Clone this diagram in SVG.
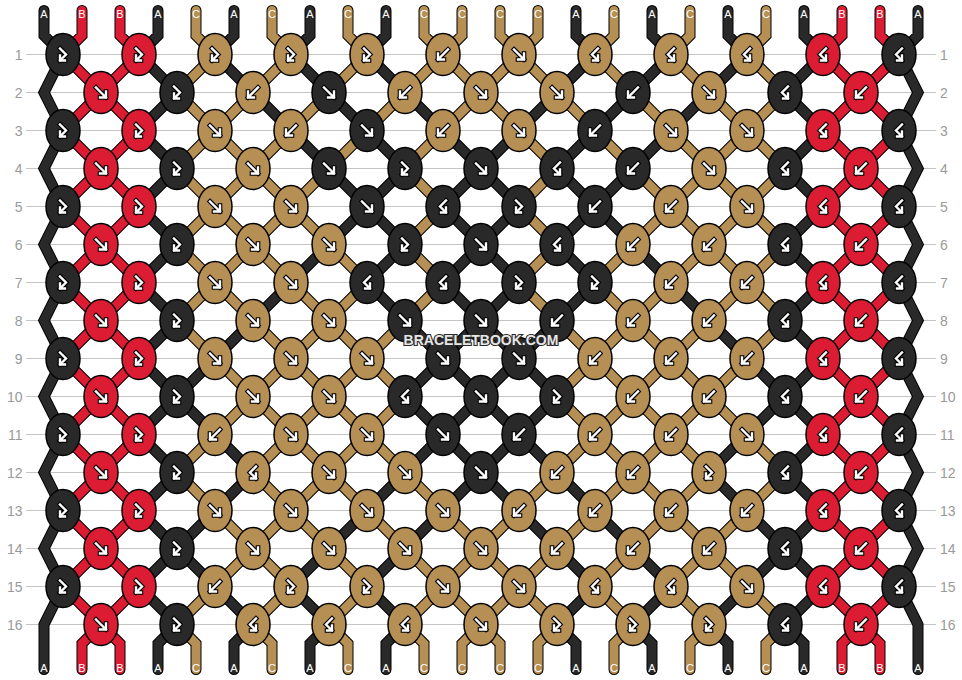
<svg xmlns="http://www.w3.org/2000/svg" xmlns:xlink="http://www.w3.org/1999/xlink" width="962" height="680" viewBox="0 0 962 680">
<style>
.A{fill:#292929}.B{fill:#dc1c33}.C{fill:#b58f53}
ellipse{stroke:#000;stroke-width:1.5}
.io{fill:none;stroke:#000;stroke-width:4.6;stroke-linecap:square;stroke-linejoin:miter}
.ii{fill:none;stroke:#fff;stroke-width:2.4;stroke-linecap:square;stroke-linejoin:miter}
.o{fill:none;stroke:#000;stroke-width:11;stroke-linecap:round;stroke-linejoin:miter}
.sA,.sB,.sC{fill:none;stroke-width:9;stroke-linecap:round;stroke-linejoin:miter}
.sA{stroke:#292929}.sB{stroke:#dc1c33}.sC{stroke:#b58f53}
.grid{stroke:#c4c4c4;stroke-width:1.2;fill:none}
.rl{font-family:"Liberation Sans",Arial,sans-serif;font-size:14px;fill:#9a9a9a}
.lb{font-family:"Liberation Sans",Arial,sans-serif;font-size:11px;fill:#fff;text-anchor:middle}
.wm{font-family:"Liberation Sans",Arial,sans-serif;font-size:14px;font-weight:bold;fill:#e6e6e6;stroke:#2a2a2a;stroke-width:2.2;paint-order:stroke;text-anchor:middle}
</style>
<defs>
<g id="f"><path class="io" d="M-5 -5L5 5M5 -1V5H-1"/><path class="ii" d="M-5 -5L5 5M5 -1V5H-1"/></g>
<g id="b"><path class="io" d="M5 -5L-5 5M-5 -1V5H1"/><path class="ii" d="M5 -5L-5 5M-5 -1V5H1"/></g>
<g id="fb"><path class="io" d="M-3 -6L3 0L-3 6M-3 1V6H2"/><path class="ii" d="M-3 -6L3 0L-3 6M-3 1V6H2"/></g>
<g id="bf"><path class="io" d="M3 -6L-3 0L3 6M3 1V6H-2"/><path class="ii" d="M3 -6L-3 0L3 6M3 1V6H-2"/></g>
<path id="dA" d="M44 10.5V35.5L63 54.5L44 92.5L63 130.5L44 168.5L63 206.5L44 244.5L63 282.5L44 320.5L63 358.5L44 396.5L63 434.5L44 472.5L63 510.5L44 548.5L63 586.5L44 624.5V669.5M918 10.5V35.5L899 54.5L918 92.5L899 130.5L918 168.5L899 206.5L918 244.5L899 282.5L918 320.5L899 358.5L918 396.5L899 434.5L918 472.5L899 510.5L918 548.5L899 586.5L918 624.5V669.5
M158 10.5v25l-19 19M234 10.5v25l-19 19M310 10.5v25l-19 19M386 10.5v25l-19 19M576 10.5v25l19 19M652 10.5v25l19 19M728 10.5v25l19 19M804 10.5v25l19 19
M595 54.5l-38 38M671 54.5l-38 38M747 54.5l-38 38M823 54.5l-38 38M139 54.5l38 38M215 54.5l38 38M291 54.5l38 38M367 54.5l38 38
M177 92.5l-38 38M557 92.5l-38 38M633 92.5l-38 38M709 92.5l-38 38M253 92.5l38 38M329 92.5l38 38M405 92.5l38 38M785 92.5l38 38
M519 130.5l-38 38M595 130.5l-38 38M671 130.5l-38 38M823 130.5l-38 38M139 130.5l38 38M291 130.5l38 38M367 130.5l38 38M443 130.5l38 38
M177 168.5l-38 38M405 168.5l-38 38M481 168.5l-38 38M633 168.5l-38 38M329 168.5l38 38M481 168.5l38 38M557 168.5l38 38M785 168.5l38 38
M367 206.5l-38 38M519 206.5l-38 38M595 206.5l-38 38M823 206.5l-38 38M139 206.5l38 38M367 206.5l38 38M443 206.5l38 38M595 206.5l38 38
M177 244.5l-38 38M329 244.5l-38 38M405 244.5l-38 38M481 244.5l-38 38M481 244.5l38 38M557 244.5l38 38M633 244.5l38 38M785 244.5l38 38
M291 282.5l-38 38M519 282.5l-38 38M595 282.5l-38 38M823 282.5l-38 38M139 282.5l38 38M367 282.5l38 38M443 282.5l38 38M671 282.5l38 38
M177 320.5l-38 38M253 320.5l-38 38M481 320.5l-38 38M557 320.5l-38 38M405 320.5l38 38M481 320.5l38 38M709 320.5l38 38M785 320.5l38 38
M215 358.5l-38 38M443 358.5l-38 38M519 358.5l-38 38M823 358.5l-38 38M139 358.5l38 38M443 358.5l38 38M519 358.5l38 38M747 358.5l38 38
M177 396.5l-38 38M481 396.5l-38 38M557 396.5l-38 38M785 396.5l-38 38M177 396.5l38 38M405 396.5l38 38M481 396.5l38 38M785 396.5l38 38
M443 434.5l-38 38M519 434.5l-38 38M747 434.5l-38 38M823 434.5l-38 38M139 434.5l38 38M215 434.5l38 38M443 434.5l38 38M519 434.5l38 38
M177 472.5l-38 38M253 472.5l-38 38M405 472.5l-38 38M481 472.5l-38 38M481 472.5l38 38M557 472.5l38 38M709 472.5l38 38M785 472.5l38 38
M215 510.5l-38 38M367 510.5l-38 38M443 510.5l-38 38M823 510.5l-38 38M139 510.5l38 38M519 510.5l38 38M595 510.5l38 38M747 510.5l38 38
M177 548.5l-38 38M329 548.5l-38 38M405 548.5l-38 38M785 548.5l-38 38M177 548.5l38 38M557 548.5l38 38M633 548.5l38 38M785 548.5l38 38
M595 586.5l-38 38M671 586.5l-38 38M747 586.5l-38 38M823 586.5l-38 38M139 586.5l38 38M215 586.5l38 38M291 586.5l38 38M367 586.5l38 38
M177 624.5l-19 19v26M253 624.5l-19 19v26M329 624.5l-19 19v26M405 624.5l-19 19v26M557 624.5l19 19v26M633 624.5l19 19v26M709 624.5l19 19v26M785 624.5l19 19v26"/>
<path id="dB" d="M82 10.5v25l-19 19M120 10.5v25l19 19M842 10.5v25l-19 19M880 10.5v25l19 19
M139 54.5l-38 38M899 54.5l-38 38M63 54.5l38 38M823 54.5l38 38
M139 130.5l-38 38M899 130.5l-38 38M63 130.5l38 38M823 130.5l38 38
M139 206.5l-38 38M899 206.5l-38 38M63 206.5l38 38M823 206.5l38 38
M139 282.5l-38 38M899 282.5l-38 38M63 282.5l38 38M823 282.5l38 38
M139 358.5l-38 38M899 358.5l-38 38M63 358.5l38 38M823 358.5l38 38
M139 434.5l-38 38M899 434.5l-38 38M63 434.5l38 38M823 434.5l38 38
M139 510.5l-38 38M899 510.5l-38 38M63 510.5l38 38M823 510.5l38 38
M139 586.5l-38 38M899 586.5l-38 38M63 586.5l38 38M823 586.5l38 38
M101 92.5l-38 38M861 92.5l-38 38M101 92.5l38 38M861 92.5l38 38
M101 168.5l-38 38M861 168.5l-38 38M101 168.5l38 38M861 168.5l38 38
M101 244.5l-38 38M861 244.5l-38 38M101 244.5l38 38M861 244.5l38 38
M101 320.5l-38 38M861 320.5l-38 38M101 320.5l38 38M861 320.5l38 38
M101 396.5l-38 38M861 396.5l-38 38M101 396.5l38 38M861 396.5l38 38
M101 472.5l-38 38M861 472.5l-38 38M101 472.5l38 38M861 472.5l38 38
M101 548.5l-38 38M861 548.5l-38 38M101 548.5l38 38M861 548.5l38 38
M101 624.5l-19 19v26M101 624.5l19 19v26M861 624.5l-19 19v26M861 624.5l19 19v26"/>
<path id="dC" d="M196 10.5v25l19 19M272 10.5v25l19 19M348 10.5v25l19 19M424 10.5v25l19 19M462 10.5v25l-19 19M500 10.5v25l19 19M538 10.5v25l-19 19M614 10.5v25l-19 19M690 10.5v25l-19 19M766 10.5v25l-19 19
M215 54.5l-38 38M291 54.5l-38 38M367 54.5l-38 38M443 54.5l-38 38M519 54.5l-38 38M443 54.5l38 38M519 54.5l38 38M595 54.5l38 38M671 54.5l38 38M747 54.5l38 38
M253 92.5l-38 38M329 92.5l-38 38M405 92.5l-38 38M481 92.5l-38 38M785 92.5l-38 38M177 92.5l38 38M481 92.5l38 38M557 92.5l38 38M633 92.5l38 38M709 92.5l38 38
M215 130.5l-38 38M291 130.5l-38 38M367 130.5l-38 38M443 130.5l-38 38M747 130.5l-38 38M215 130.5l38 38M519 130.5l38 38M595 130.5l38 38M671 130.5l38 38M747 130.5l38 38
M253 168.5l-38 38M329 168.5l-38 38M557 168.5l-38 38M709 168.5l-38 38M785 168.5l-38 38M177 168.5l38 38M253 168.5l38 38M405 168.5l38 38M633 168.5l38 38M709 168.5l38 38
M215 206.5l-38 38M291 206.5l-38 38M443 206.5l-38 38M671 206.5l-38 38M747 206.5l-38 38M215 206.5l38 38M291 206.5l38 38M519 206.5l38 38M671 206.5l38 38M747 206.5l38 38
M253 244.5l-38 38M557 244.5l-38 38M633 244.5l-38 38M709 244.5l-38 38M785 244.5l-38 38M177 244.5l38 38M253 244.5l38 38M329 244.5l38 38M405 244.5l38 38M709 244.5l38 38
M215 282.5l-38 38M367 282.5l-38 38M443 282.5l-38 38M671 282.5l-38 38M747 282.5l-38 38M215 282.5l38 38M291 282.5l38 38M519 282.5l38 38M595 282.5l38 38M747 282.5l38 38
M329 320.5l-38 38M405 320.5l-38 38M633 320.5l-38 38M709 320.5l-38 38M785 320.5l-38 38M177 320.5l38 38M253 320.5l38 38M329 320.5l38 38M557 320.5l38 38M633 320.5l38 38
M291 358.5l-38 38M367 358.5l-38 38M595 358.5l-38 38M671 358.5l-38 38M747 358.5l-38 38M215 358.5l38 38M291 358.5l38 38M367 358.5l38 38M595 358.5l38 38M671 358.5l38 38
M253 396.5l-38 38M329 396.5l-38 38M405 396.5l-38 38M633 396.5l-38 38M709 396.5l-38 38M253 396.5l38 38M329 396.5l38 38M557 396.5l38 38M633 396.5l38 38M709 396.5l38 38
M215 434.5l-38 38M291 434.5l-38 38M367 434.5l-38 38M595 434.5l-38 38M671 434.5l-38 38M291 434.5l38 38M367 434.5l38 38M595 434.5l38 38M671 434.5l38 38M747 434.5l38 38
M329 472.5l-38 38M557 472.5l-38 38M633 472.5l-38 38M709 472.5l-38 38M785 472.5l-38 38M177 472.5l38 38M253 472.5l38 38M329 472.5l38 38M405 472.5l38 38M633 472.5l38 38
M291 510.5l-38 38M519 510.5l-38 38M595 510.5l-38 38M671 510.5l-38 38M747 510.5l-38 38M215 510.5l38 38M291 510.5l38 38M367 510.5l38 38M443 510.5l38 38M671 510.5l38 38
M253 548.5l-38 38M481 548.5l-38 38M557 548.5l-38 38M633 548.5l-38 38M709 548.5l-38 38M253 548.5l38 38M329 548.5l38 38M405 548.5l38 38M481 548.5l38 38M709 548.5l38 38
M215 586.5l-38 38M291 586.5l-38 38M367 586.5l-38 38M443 586.5l-38 38M519 586.5l-38 38M443 586.5l38 38M519 586.5l38 38M595 586.5l38 38M671 586.5l38 38M747 586.5l38 38
M481 624.5l-19 19v26M557 624.5l-19 19v26M633 624.5l-19 19v26M709 624.5l-19 19v26M785 624.5l-19 19v26M177 624.5l19 19v26M253 624.5l19 19v26M329 624.5l19 19v26M405 624.5l19 19v26M481 624.5l19 19v26"/>
</defs>
<rect width="962" height="680" fill="#fff"/>
<path class="grid" d="M26 54.5H936M26 92.5H936M26 130.5H936M26 168.5H936M26 206.5H936M26 244.5H936M26 282.5H936M26 320.5H936M26 358.5H936M26 396.5H936M26 434.5H936M26 472.5H936M26 510.5H936M26 548.5H936M26 586.5H936M26 624.5H936"/>
<g id="row-labels" class="rl">
<g text-anchor="end"><text x="22.5" y="59.5">1</text><text x="22.5" y="97.5">2</text><text x="22.5" y="135.5">3</text><text x="22.5" y="173.5">4</text><text x="22.5" y="211.5">5</text><text x="22.5" y="249.5">6</text><text x="22.5" y="287.5">7</text><text x="22.5" y="325.5">8</text><text x="22.5" y="363.5">9</text><text x="22.5" y="401.5">10</text><text x="22.5" y="439.5">11</text><text x="22.5" y="477.5">12</text><text x="22.5" y="515.5">13</text><text x="22.5" y="553.5">14</text><text x="22.5" y="591.5">15</text><text x="22.5" y="629.5">16</text></g>
<g text-anchor="start"><text x="940" y="59.5">1</text><text x="940" y="97.5">2</text><text x="940" y="135.5">3</text><text x="940" y="173.5">4</text><text x="940" y="211.5">5</text><text x="940" y="249.5">6</text><text x="940" y="287.5">7</text><text x="940" y="325.5">8</text><text x="940" y="363.5">9</text><text x="940" y="401.5">10</text><text x="940" y="439.5">11</text><text x="940" y="477.5">12</text><text x="940" y="515.5">13</text><text x="940" y="553.5">14</text><text x="940" y="591.5">15</text><text x="940" y="629.5">16</text></g>
</g>
<g id="connectors">
<use href="#dA" class="o"/><use href="#dB" class="o"/><use href="#dC" class="o"/>
<use href="#dA" class="sA"/><use href="#dB" class="sB"/><use href="#dC" class="sC"/>
</g>
<g id="knots">
<g id="k1-1" transform="translate(63 54.5)"><ellipse class="A" rx="17" ry="21"/><use href="#fb"/></g>
<g id="k1-2" transform="translate(139 54.5)"><ellipse class="B" rx="17" ry="21"/><use href="#fb"/></g>
<g id="k1-3" transform="translate(215 54.5)"><ellipse class="C" rx="17" ry="21"/><use href="#fb"/></g>
<g id="k1-4" transform="translate(291 54.5)"><ellipse class="C" rx="17" ry="21"/><use href="#fb"/></g>
<g id="k1-5" transform="translate(367 54.5)"><ellipse class="C" rx="17" ry="21"/><use href="#fb"/></g>
<g id="k1-6" transform="translate(443 54.5)"><ellipse class="C" rx="17" ry="21"/><use href="#b"/></g>
<g id="k1-7" transform="translate(519 54.5)"><ellipse class="C" rx="17" ry="21"/><use href="#f"/></g>
<g id="k1-8" transform="translate(595 54.5)"><ellipse class="C" rx="17" ry="21"/><use href="#bf"/></g>
<g id="k1-9" transform="translate(671 54.5)"><ellipse class="C" rx="17" ry="21"/><use href="#bf"/></g>
<g id="k1-10" transform="translate(747 54.5)"><ellipse class="C" rx="17" ry="21"/><use href="#bf"/></g>
<g id="k1-11" transform="translate(823 54.5)"><ellipse class="B" rx="17" ry="21"/><use href="#bf"/></g>
<g id="k1-12" transform="translate(899 54.5)"><ellipse class="A" rx="17" ry="21"/><use href="#bf"/></g>

<g id="k2-1" transform="translate(101 92.5)"><ellipse class="B" rx="17" ry="21"/><use href="#f"/></g>
<g id="k2-2" transform="translate(177 92.5)"><ellipse class="A" rx="17" ry="21"/><use href="#fb"/></g>
<g id="k2-3" transform="translate(253 92.5)"><ellipse class="C" rx="17" ry="21"/><use href="#b"/></g>
<g id="k2-4" transform="translate(329 92.5)"><ellipse class="A" rx="17" ry="21"/><use href="#f"/></g>
<g id="k2-5" transform="translate(405 92.5)"><ellipse class="C" rx="17" ry="21"/><use href="#b"/></g>
<g id="k2-6" transform="translate(481 92.5)"><ellipse class="C" rx="17" ry="21"/><use href="#f"/></g>
<g id="k2-7" transform="translate(557 92.5)"><ellipse class="C" rx="17" ry="21"/><use href="#f"/></g>
<g id="k2-8" transform="translate(633 92.5)"><ellipse class="A" rx="17" ry="21"/><use href="#b"/></g>
<g id="k2-9" transform="translate(709 92.5)"><ellipse class="C" rx="17" ry="21"/><use href="#f"/></g>
<g id="k2-10" transform="translate(785 92.5)"><ellipse class="A" rx="17" ry="21"/><use href="#bf"/></g>
<g id="k2-11" transform="translate(861 92.5)"><ellipse class="B" rx="17" ry="21"/><use href="#b"/></g>

<g id="k3-1" transform="translate(63 130.5)"><ellipse class="A" rx="17" ry="21"/><use href="#fb"/></g>
<g id="k3-2" transform="translate(139 130.5)"><ellipse class="B" rx="17" ry="21"/><use href="#fb"/></g>
<g id="k3-3" transform="translate(215 130.5)"><ellipse class="C" rx="17" ry="21"/><use href="#f"/></g>
<g id="k3-4" transform="translate(291 130.5)"><ellipse class="C" rx="17" ry="21"/><use href="#b"/></g>
<g id="k3-5" transform="translate(367 130.5)"><ellipse class="A" rx="17" ry="21"/><use href="#f"/></g>
<g id="k3-6" transform="translate(443 130.5)"><ellipse class="C" rx="17" ry="21"/><use href="#b"/></g>
<g id="k3-7" transform="translate(519 130.5)"><ellipse class="C" rx="17" ry="21"/><use href="#f"/></g>
<g id="k3-8" transform="translate(595 130.5)"><ellipse class="A" rx="17" ry="21"/><use href="#b"/></g>
<g id="k3-9" transform="translate(671 130.5)"><ellipse class="C" rx="17" ry="21"/><use href="#f"/></g>
<g id="k3-10" transform="translate(747 130.5)"><ellipse class="C" rx="17" ry="21"/><use href="#f"/></g>
<g id="k3-11" transform="translate(823 130.5)"><ellipse class="B" rx="17" ry="21"/><use href="#bf"/></g>
<g id="k3-12" transform="translate(899 130.5)"><ellipse class="A" rx="17" ry="21"/><use href="#bf"/></g>

<g id="k4-1" transform="translate(101 168.5)"><ellipse class="B" rx="17" ry="21"/><use href="#f"/></g>
<g id="k4-2" transform="translate(177 168.5)"><ellipse class="A" rx="17" ry="21"/><use href="#fb"/></g>
<g id="k4-3" transform="translate(253 168.5)"><ellipse class="C" rx="17" ry="21"/><use href="#f"/></g>
<g id="k4-4" transform="translate(329 168.5)"><ellipse class="A" rx="17" ry="21"/><use href="#f"/></g>
<g id="k4-5" transform="translate(405 168.5)"><ellipse class="A" rx="17" ry="21"/><use href="#fb"/></g>
<g id="k4-6" transform="translate(481 168.5)"><ellipse class="A" rx="17" ry="21"/><use href="#f"/></g>
<g id="k4-7" transform="translate(557 168.5)"><ellipse class="A" rx="17" ry="21"/><use href="#bf"/></g>
<g id="k4-8" transform="translate(633 168.5)"><ellipse class="A" rx="17" ry="21"/><use href="#b"/></g>
<g id="k4-9" transform="translate(709 168.5)"><ellipse class="C" rx="17" ry="21"/><use href="#f"/></g>
<g id="k4-10" transform="translate(785 168.5)"><ellipse class="A" rx="17" ry="21"/><use href="#bf"/></g>
<g id="k4-11" transform="translate(861 168.5)"><ellipse class="B" rx="17" ry="21"/><use href="#b"/></g>

<g id="k5-1" transform="translate(63 206.5)"><ellipse class="A" rx="17" ry="21"/><use href="#fb"/></g>
<g id="k5-2" transform="translate(139 206.5)"><ellipse class="B" rx="17" ry="21"/><use href="#fb"/></g>
<g id="k5-3" transform="translate(215 206.5)"><ellipse class="C" rx="17" ry="21"/><use href="#f"/></g>
<g id="k5-4" transform="translate(291 206.5)"><ellipse class="C" rx="17" ry="21"/><use href="#f"/></g>
<g id="k5-5" transform="translate(367 206.5)"><ellipse class="A" rx="17" ry="21"/><use href="#f"/></g>
<g id="k5-6" transform="translate(443 206.5)"><ellipse class="A" rx="17" ry="21"/><use href="#bf"/></g>
<g id="k5-7" transform="translate(519 206.5)"><ellipse class="A" rx="17" ry="21"/><use href="#fb"/></g>
<g id="k5-8" transform="translate(595 206.5)"><ellipse class="A" rx="17" ry="21"/><use href="#b"/></g>
<g id="k5-9" transform="translate(671 206.5)"><ellipse class="C" rx="17" ry="21"/><use href="#b"/></g>
<g id="k5-10" transform="translate(747 206.5)"><ellipse class="C" rx="17" ry="21"/><use href="#f"/></g>
<g id="k5-11" transform="translate(823 206.5)"><ellipse class="B" rx="17" ry="21"/><use href="#bf"/></g>
<g id="k5-12" transform="translate(899 206.5)"><ellipse class="A" rx="17" ry="21"/><use href="#bf"/></g>

<g id="k6-1" transform="translate(101 244.5)"><ellipse class="B" rx="17" ry="21"/><use href="#f"/></g>
<g id="k6-2" transform="translate(177 244.5)"><ellipse class="A" rx="17" ry="21"/><use href="#fb"/></g>
<g id="k6-3" transform="translate(253 244.5)"><ellipse class="C" rx="17" ry="21"/><use href="#f"/></g>
<g id="k6-4" transform="translate(329 244.5)"><ellipse class="C" rx="17" ry="21"/><use href="#f"/></g>
<g id="k6-5" transform="translate(405 244.5)"><ellipse class="A" rx="17" ry="21"/><use href="#fb"/></g>
<g id="k6-6" transform="translate(481 244.5)"><ellipse class="A" rx="17" ry="21"/><use href="#f"/></g>
<g id="k6-7" transform="translate(557 244.5)"><ellipse class="A" rx="17" ry="21"/><use href="#bf"/></g>
<g id="k6-8" transform="translate(633 244.5)"><ellipse class="C" rx="17" ry="21"/><use href="#b"/></g>
<g id="k6-9" transform="translate(709 244.5)"><ellipse class="C" rx="17" ry="21"/><use href="#b"/></g>
<g id="k6-10" transform="translate(785 244.5)"><ellipse class="A" rx="17" ry="21"/><use href="#bf"/></g>
<g id="k6-11" transform="translate(861 244.5)"><ellipse class="B" rx="17" ry="21"/><use href="#b"/></g>

<g id="k7-1" transform="translate(63 282.5)"><ellipse class="A" rx="17" ry="21"/><use href="#fb"/></g>
<g id="k7-2" transform="translate(139 282.5)"><ellipse class="B" rx="17" ry="21"/><use href="#fb"/></g>
<g id="k7-3" transform="translate(215 282.5)"><ellipse class="C" rx="17" ry="21"/><use href="#f"/></g>
<g id="k7-4" transform="translate(291 282.5)"><ellipse class="C" rx="17" ry="21"/><use href="#f"/></g>
<g id="k7-5" transform="translate(367 282.5)"><ellipse class="A" rx="17" ry="21"/><use href="#bf"/></g>
<g id="k7-6" transform="translate(443 282.5)"><ellipse class="A" rx="17" ry="21"/><use href="#bf"/></g>
<g id="k7-7" transform="translate(519 282.5)"><ellipse class="A" rx="17" ry="21"/><use href="#fb"/></g>
<g id="k7-8" transform="translate(595 282.5)"><ellipse class="A" rx="17" ry="21"/><use href="#fb"/></g>
<g id="k7-9" transform="translate(671 282.5)"><ellipse class="C" rx="17" ry="21"/><use href="#b"/></g>
<g id="k7-10" transform="translate(747 282.5)"><ellipse class="C" rx="17" ry="21"/><use href="#b"/></g>
<g id="k7-11" transform="translate(823 282.5)"><ellipse class="B" rx="17" ry="21"/><use href="#bf"/></g>
<g id="k7-12" transform="translate(899 282.5)"><ellipse class="A" rx="17" ry="21"/><use href="#bf"/></g>

<g id="k8-1" transform="translate(101 320.5)"><ellipse class="B" rx="17" ry="21"/><use href="#f"/></g>
<g id="k8-2" transform="translate(177 320.5)"><ellipse class="A" rx="17" ry="21"/><use href="#fb"/></g>
<g id="k8-3" transform="translate(253 320.5)"><ellipse class="C" rx="17" ry="21"/><use href="#f"/></g>
<g id="k8-4" transform="translate(329 320.5)"><ellipse class="C" rx="17" ry="21"/><use href="#f"/></g>
<g id="k8-5" transform="translate(405 320.5)"><ellipse class="A" rx="17" ry="21"/><use href="#f"/></g>
<g id="k8-6" transform="translate(481 320.5)"><ellipse class="A" rx="17" ry="21"/><use href="#f"/></g>
<g id="k8-7" transform="translate(557 320.5)"><ellipse class="A" rx="17" ry="21"/><use href="#b"/></g>
<g id="k8-8" transform="translate(633 320.5)"><ellipse class="C" rx="17" ry="21"/><use href="#b"/></g>
<g id="k8-9" transform="translate(709 320.5)"><ellipse class="C" rx="17" ry="21"/><use href="#b"/></g>
<g id="k8-10" transform="translate(785 320.5)"><ellipse class="A" rx="17" ry="21"/><use href="#bf"/></g>
<g id="k8-11" transform="translate(861 320.5)"><ellipse class="B" rx="17" ry="21"/><use href="#b"/></g>

<g id="k9-1" transform="translate(63 358.5)"><ellipse class="A" rx="17" ry="21"/><use href="#fb"/></g>
<g id="k9-2" transform="translate(139 358.5)"><ellipse class="B" rx="17" ry="21"/><use href="#fb"/></g>
<g id="k9-3" transform="translate(215 358.5)"><ellipse class="C" rx="17" ry="21"/><use href="#f"/></g>
<g id="k9-4" transform="translate(291 358.5)"><ellipse class="C" rx="17" ry="21"/><use href="#f"/></g>
<g id="k9-5" transform="translate(367 358.5)"><ellipse class="C" rx="17" ry="21"/><use href="#f"/></g>
<g id="k9-6" transform="translate(443 358.5)"><ellipse class="A" rx="17" ry="21"/><use href="#f"/></g>
<g id="k9-7" transform="translate(519 358.5)"><ellipse class="A" rx="17" ry="21"/><use href="#f"/></g>
<g id="k9-8" transform="translate(595 358.5)"><ellipse class="C" rx="17" ry="21"/><use href="#b"/></g>
<g id="k9-9" transform="translate(671 358.5)"><ellipse class="C" rx="17" ry="21"/><use href="#b"/></g>
<g id="k9-10" transform="translate(747 358.5)"><ellipse class="C" rx="17" ry="21"/><use href="#b"/></g>
<g id="k9-11" transform="translate(823 358.5)"><ellipse class="B" rx="17" ry="21"/><use href="#bf"/></g>
<g id="k9-12" transform="translate(899 358.5)"><ellipse class="A" rx="17" ry="21"/><use href="#bf"/></g>

<g id="k10-1" transform="translate(101 396.5)"><ellipse class="B" rx="17" ry="21"/><use href="#f"/></g>
<g id="k10-2" transform="translate(177 396.5)"><ellipse class="A" rx="17" ry="21"/><use href="#fb"/></g>
<g id="k10-3" transform="translate(253 396.5)"><ellipse class="C" rx="17" ry="21"/><use href="#f"/></g>
<g id="k10-4" transform="translate(329 396.5)"><ellipse class="C" rx="17" ry="21"/><use href="#f"/></g>
<g id="k10-5" transform="translate(405 396.5)"><ellipse class="A" rx="17" ry="21"/><use href="#bf"/></g>
<g id="k10-6" transform="translate(481 396.5)"><ellipse class="A" rx="17" ry="21"/><use href="#f"/></g>
<g id="k10-7" transform="translate(557 396.5)"><ellipse class="A" rx="17" ry="21"/><use href="#fb"/></g>
<g id="k10-8" transform="translate(633 396.5)"><ellipse class="C" rx="17" ry="21"/><use href="#b"/></g>
<g id="k10-9" transform="translate(709 396.5)"><ellipse class="C" rx="17" ry="21"/><use href="#b"/></g>
<g id="k10-10" transform="translate(785 396.5)"><ellipse class="A" rx="17" ry="21"/><use href="#bf"/></g>
<g id="k10-11" transform="translate(861 396.5)"><ellipse class="B" rx="17" ry="21"/><use href="#b"/></g>

<g id="k11-1" transform="translate(63 434.5)"><ellipse class="A" rx="17" ry="21"/><use href="#fb"/></g>
<g id="k11-2" transform="translate(139 434.5)"><ellipse class="B" rx="17" ry="21"/><use href="#fb"/></g>
<g id="k11-3" transform="translate(215 434.5)"><ellipse class="C" rx="17" ry="21"/><use href="#b"/></g>
<g id="k11-4" transform="translate(291 434.5)"><ellipse class="C" rx="17" ry="21"/><use href="#f"/></g>
<g id="k11-5" transform="translate(367 434.5)"><ellipse class="C" rx="17" ry="21"/><use href="#f"/></g>
<g id="k11-6" transform="translate(443 434.5)"><ellipse class="A" rx="17" ry="21"/><use href="#f"/></g>
<g id="k11-7" transform="translate(519 434.5)"><ellipse class="A" rx="17" ry="21"/><use href="#b"/></g>
<g id="k11-8" transform="translate(595 434.5)"><ellipse class="C" rx="17" ry="21"/><use href="#b"/></g>
<g id="k11-9" transform="translate(671 434.5)"><ellipse class="C" rx="17" ry="21"/><use href="#b"/></g>
<g id="k11-10" transform="translate(747 434.5)"><ellipse class="C" rx="17" ry="21"/><use href="#f"/></g>
<g id="k11-11" transform="translate(823 434.5)"><ellipse class="B" rx="17" ry="21"/><use href="#bf"/></g>
<g id="k11-12" transform="translate(899 434.5)"><ellipse class="A" rx="17" ry="21"/><use href="#bf"/></g>

<g id="k12-1" transform="translate(101 472.5)"><ellipse class="B" rx="17" ry="21"/><use href="#f"/></g>
<g id="k12-2" transform="translate(177 472.5)"><ellipse class="A" rx="17" ry="21"/><use href="#fb"/></g>
<g id="k12-3" transform="translate(253 472.5)"><ellipse class="C" rx="17" ry="21"/><use href="#bf"/></g>
<g id="k12-4" transform="translate(329 472.5)"><ellipse class="C" rx="17" ry="21"/><use href="#f"/></g>
<g id="k12-5" transform="translate(405 472.5)"><ellipse class="C" rx="17" ry="21"/><use href="#f"/></g>
<g id="k12-6" transform="translate(481 472.5)"><ellipse class="A" rx="17" ry="21"/><use href="#f"/></g>
<g id="k12-7" transform="translate(557 472.5)"><ellipse class="C" rx="17" ry="21"/><use href="#b"/></g>
<g id="k12-8" transform="translate(633 472.5)"><ellipse class="C" rx="17" ry="21"/><use href="#b"/></g>
<g id="k12-9" transform="translate(709 472.5)"><ellipse class="C" rx="17" ry="21"/><use href="#fb"/></g>
<g id="k12-10" transform="translate(785 472.5)"><ellipse class="A" rx="17" ry="21"/><use href="#bf"/></g>
<g id="k12-11" transform="translate(861 472.5)"><ellipse class="B" rx="17" ry="21"/><use href="#b"/></g>

<g id="k13-1" transform="translate(63 510.5)"><ellipse class="A" rx="17" ry="21"/><use href="#fb"/></g>
<g id="k13-2" transform="translate(139 510.5)"><ellipse class="B" rx="17" ry="21"/><use href="#fb"/></g>
<g id="k13-3" transform="translate(215 510.5)"><ellipse class="C" rx="17" ry="21"/><use href="#f"/></g>
<g id="k13-4" transform="translate(291 510.5)"><ellipse class="C" rx="17" ry="21"/><use href="#f"/></g>
<g id="k13-5" transform="translate(367 510.5)"><ellipse class="C" rx="17" ry="21"/><use href="#f"/></g>
<g id="k13-6" transform="translate(443 510.5)"><ellipse class="C" rx="17" ry="21"/><use href="#f"/></g>
<g id="k13-7" transform="translate(519 510.5)"><ellipse class="C" rx="17" ry="21"/><use href="#b"/></g>
<g id="k13-8" transform="translate(595 510.5)"><ellipse class="C" rx="17" ry="21"/><use href="#b"/></g>
<g id="k13-9" transform="translate(671 510.5)"><ellipse class="C" rx="17" ry="21"/><use href="#b"/></g>
<g id="k13-10" transform="translate(747 510.5)"><ellipse class="C" rx="17" ry="21"/><use href="#b"/></g>
<g id="k13-11" transform="translate(823 510.5)"><ellipse class="B" rx="17" ry="21"/><use href="#bf"/></g>
<g id="k13-12" transform="translate(899 510.5)"><ellipse class="A" rx="17" ry="21"/><use href="#bf"/></g>

<g id="k14-1" transform="translate(101 548.5)"><ellipse class="B" rx="17" ry="21"/><use href="#f"/></g>
<g id="k14-2" transform="translate(177 548.5)"><ellipse class="A" rx="17" ry="21"/><use href="#fb"/></g>
<g id="k14-3" transform="translate(253 548.5)"><ellipse class="C" rx="17" ry="21"/><use href="#f"/></g>
<g id="k14-4" transform="translate(329 548.5)"><ellipse class="C" rx="17" ry="21"/><use href="#f"/></g>
<g id="k14-5" transform="translate(405 548.5)"><ellipse class="C" rx="17" ry="21"/><use href="#f"/></g>
<g id="k14-6" transform="translate(481 548.5)"><ellipse class="C" rx="17" ry="21"/><use href="#f"/></g>
<g id="k14-7" transform="translate(557 548.5)"><ellipse class="C" rx="17" ry="21"/><use href="#b"/></g>
<g id="k14-8" transform="translate(633 548.5)"><ellipse class="C" rx="17" ry="21"/><use href="#b"/></g>
<g id="k14-9" transform="translate(709 548.5)"><ellipse class="C" rx="17" ry="21"/><use href="#b"/></g>
<g id="k14-10" transform="translate(785 548.5)"><ellipse class="A" rx="17" ry="21"/><use href="#bf"/></g>
<g id="k14-11" transform="translate(861 548.5)"><ellipse class="B" rx="17" ry="21"/><use href="#b"/></g>

<g id="k15-1" transform="translate(63 586.5)"><ellipse class="A" rx="17" ry="21"/><use href="#fb"/></g>
<g id="k15-2" transform="translate(139 586.5)"><ellipse class="B" rx="17" ry="21"/><use href="#fb"/></g>
<g id="k15-3" transform="translate(215 586.5)"><ellipse class="C" rx="17" ry="21"/><use href="#b"/></g>
<g id="k15-4" transform="translate(291 586.5)"><ellipse class="C" rx="17" ry="21"/><use href="#fb"/></g>
<g id="k15-5" transform="translate(367 586.5)"><ellipse class="C" rx="17" ry="21"/><use href="#fb"/></g>
<g id="k15-6" transform="translate(443 586.5)"><ellipse class="C" rx="17" ry="21"/><use href="#f"/></g>
<g id="k15-7" transform="translate(519 586.5)"><ellipse class="C" rx="17" ry="21"/><use href="#f"/></g>
<g id="k15-8" transform="translate(595 586.5)"><ellipse class="C" rx="17" ry="21"/><use href="#bf"/></g>
<g id="k15-9" transform="translate(671 586.5)"><ellipse class="C" rx="17" ry="21"/><use href="#bf"/></g>
<g id="k15-10" transform="translate(747 586.5)"><ellipse class="C" rx="17" ry="21"/><use href="#f"/></g>
<g id="k15-11" transform="translate(823 586.5)"><ellipse class="B" rx="17" ry="21"/><use href="#bf"/></g>
<g id="k15-12" transform="translate(899 586.5)"><ellipse class="A" rx="17" ry="21"/><use href="#bf"/></g>

<g id="k16-1" transform="translate(101 624.5)"><ellipse class="B" rx="17" ry="21"/><use href="#f"/></g>
<g id="k16-2" transform="translate(177 624.5)"><ellipse class="A" rx="17" ry="21"/><use href="#fb"/></g>
<g id="k16-3" transform="translate(253 624.5)"><ellipse class="C" rx="17" ry="21"/><use href="#bf"/></g>
<g id="k16-4" transform="translate(329 624.5)"><ellipse class="C" rx="17" ry="21"/><use href="#bf"/></g>
<g id="k16-5" transform="translate(405 624.5)"><ellipse class="C" rx="17" ry="21"/><use href="#bf"/></g>
<g id="k16-6" transform="translate(481 624.5)"><ellipse class="C" rx="17" ry="21"/><use href="#f"/></g>
<g id="k16-7" transform="translate(557 624.5)"><ellipse class="C" rx="17" ry="21"/><use href="#fb"/></g>
<g id="k16-8" transform="translate(633 624.5)"><ellipse class="C" rx="17" ry="21"/><use href="#fb"/></g>
<g id="k16-9" transform="translate(709 624.5)"><ellipse class="C" rx="17" ry="21"/><use href="#fb"/></g>
<g id="k16-10" transform="translate(785 624.5)"><ellipse class="A" rx="17" ry="21"/><use href="#bf"/></g>
<g id="k16-11" transform="translate(861 624.5)"><ellipse class="B" rx="17" ry="21"/><use href="#b"/></g>
</g>
<g id="string-labels" class="lb">
<text x="44" y="17.5">A</text><text x="82" y="17.5">B</text><text x="120" y="17.5">B</text><text x="158" y="17.5">A</text><text x="196" y="17.5">C</text><text x="234" y="17.5">A</text><text x="272" y="17.5">C</text><text x="310" y="17.5">A</text><text x="348" y="17.5">C</text><text x="386" y="17.5">A</text><text x="424" y="17.5">C</text><text x="462" y="17.5">C</text><text x="500" y="17.5">C</text><text x="538" y="17.5">C</text><text x="576" y="17.5">A</text><text x="614" y="17.5">C</text><text x="652" y="17.5">A</text><text x="690" y="17.5">C</text><text x="728" y="17.5">A</text><text x="766" y="17.5">C</text><text x="804" y="17.5">A</text><text x="842" y="17.5">B</text><text x="880" y="17.5">B</text><text x="918" y="17.5">A</text>
<text x="44" y="672">A</text><text x="82" y="672">B</text><text x="120" y="672">B</text><text x="158" y="672">A</text><text x="196" y="672">C</text><text x="234" y="672">A</text><text x="272" y="672">C</text><text x="310" y="672">A</text><text x="348" y="672">C</text><text x="386" y="672">A</text><text x="424" y="672">C</text><text x="462" y="672">C</text><text x="500" y="672">C</text><text x="538" y="672">C</text><text x="576" y="672">A</text><text x="614" y="672">C</text><text x="652" y="672">A</text><text x="690" y="672">C</text><text x="728" y="672">A</text><text x="766" y="672">C</text><text x="804" y="672">A</text><text x="842" y="672">B</text><text x="880" y="672">B</text><text x="918" y="672">A</text>
</g>
<text class="wm" x="481" y="345">BRACELETBOOK.COM</text>
</svg>
